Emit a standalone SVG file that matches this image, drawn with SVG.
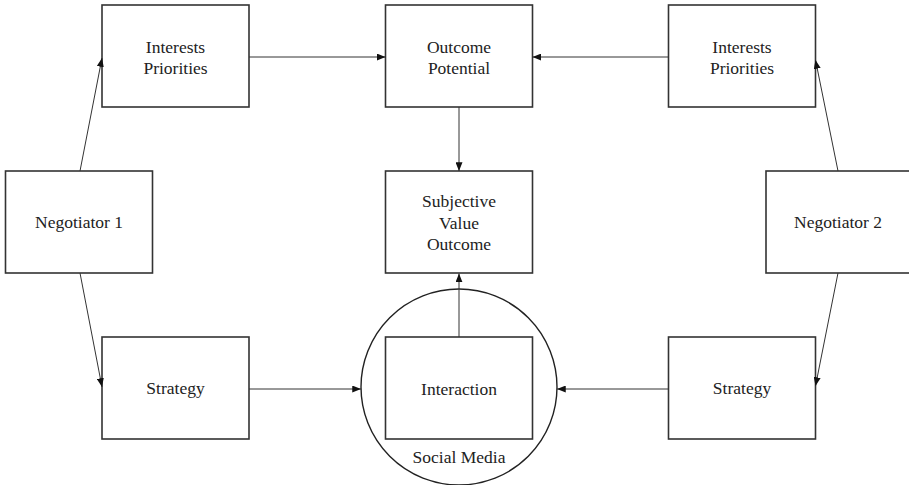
<svg xmlns="http://www.w3.org/2000/svg" width="909" height="485" viewBox="0 0 909 485">
  <style>
    .box { fill: #fff; stroke: #333; stroke-width: 1.6; }
    .ring { fill: none; stroke: #222; stroke-width: 1.4; }
    .edge { fill: none; stroke: #333; stroke-width: 1; marker-end: url(#head); }
    .lbl { font-family: 'Liberation Serif', 'DejaVu Serif', serif; font-size: 17.5px; fill: #222; text-anchor: middle; }
  </style>
  <defs>
    <marker id="head" viewBox="0 0 10 8" refX="10" refY="4" markerWidth="9" markerHeight="7" markerUnits="userSpaceOnUse" orient="auto">
      <path d="M0,0 L10,4 L0,8 Z" fill="#111"/>
    </marker>
  </defs>

  <rect width="909" height="485" fill="#fff"/>

  <!-- social media context around the interaction -->
  <g id="social-media">
    <circle class="ring" cx="459" cy="387" r="98"/>
    <text class="lbl" x="459" y="463" font-family="Liberation Serif, serif">Social Media</text>
  </g>

  <g id="interests-1">
    <rect class="box" x="102" y="5" width="147" height="102"/>
    <text class="lbl" x="175.5" y="53">Interests</text>
    <text class="lbl" x="175.5" y="74">Priorities</text>
  </g>

  <g id="outcome-potential">
    <rect class="box" x="385.5" y="5" width="147" height="102"/>
    <text class="lbl" x="459" y="53">Outcome</text>
    <text class="lbl" x="459" y="74">Potential</text>
  </g>

  <g id="interests-2">
    <rect class="box" x="668.5" y="5" width="147" height="102"/>
    <text class="lbl" x="742" y="53">Interests</text>
    <text class="lbl" x="742" y="74">Priorities</text>
  </g>

  <g id="negotiator-1">
    <rect class="box" x="5.5" y="171" width="147" height="102"/>
    <text class="lbl" x="79" y="228">Negotiator 1</text>
  </g>

  <g id="subjective-value">
    <rect class="box" x="385.5" y="171" width="147" height="102"/>
    <text class="lbl" x="459" y="207">Subjective</text>
    <text class="lbl" x="459" y="228.5">Value</text>
    <text class="lbl" x="459" y="250">Outcome</text>
  </g>

  <g id="negotiator-2">
    <rect class="box" x="766" y="171" width="147" height="102"/>
    <text class="lbl" x="838" y="228">Negotiator 2</text>
  </g>

  <g id="strategy-1">
    <rect class="box" x="102" y="337" width="147" height="102"/>
    <text class="lbl" x="175.5" y="394">Strategy</text>
  </g>

  <g id="interaction">
    <rect class="box" x="385.5" y="337" width="147" height="102"/>
    <text class="lbl" x="459" y="395">Interaction</text>
  </g>

  <g id="strategy-2">
    <rect class="box" x="668.5" y="337" width="147" height="102"/>
    <text class="lbl" x="742" y="394">Strategy</text>
  </g>

  <g id="connectors">
    <line class="edge" x1="80" y1="171" x2="102" y2="58"/>
    <line class="edge" x1="80" y1="273" x2="102" y2="387"/>
    <line class="edge" x1="838" y1="171" x2="815.5" y2="60"/>
    <line class="edge" x1="838" y1="273" x2="815.5" y2="386"/>
    <line class="edge" x1="249" y1="57" x2="385.5" y2="57"/>
    <line class="edge" x1="668.5" y1="57" x2="532.5" y2="57"/>
    <line class="edge" x1="459" y1="107" x2="459" y2="171"/>
    <line class="edge" x1="459" y1="337" x2="459" y2="273.5"/>
    <line class="edge" x1="249" y1="389" x2="361" y2="389"/>
    <line class="edge" x1="668.5" y1="389" x2="557" y2="389"/>
  </g>
</svg>
